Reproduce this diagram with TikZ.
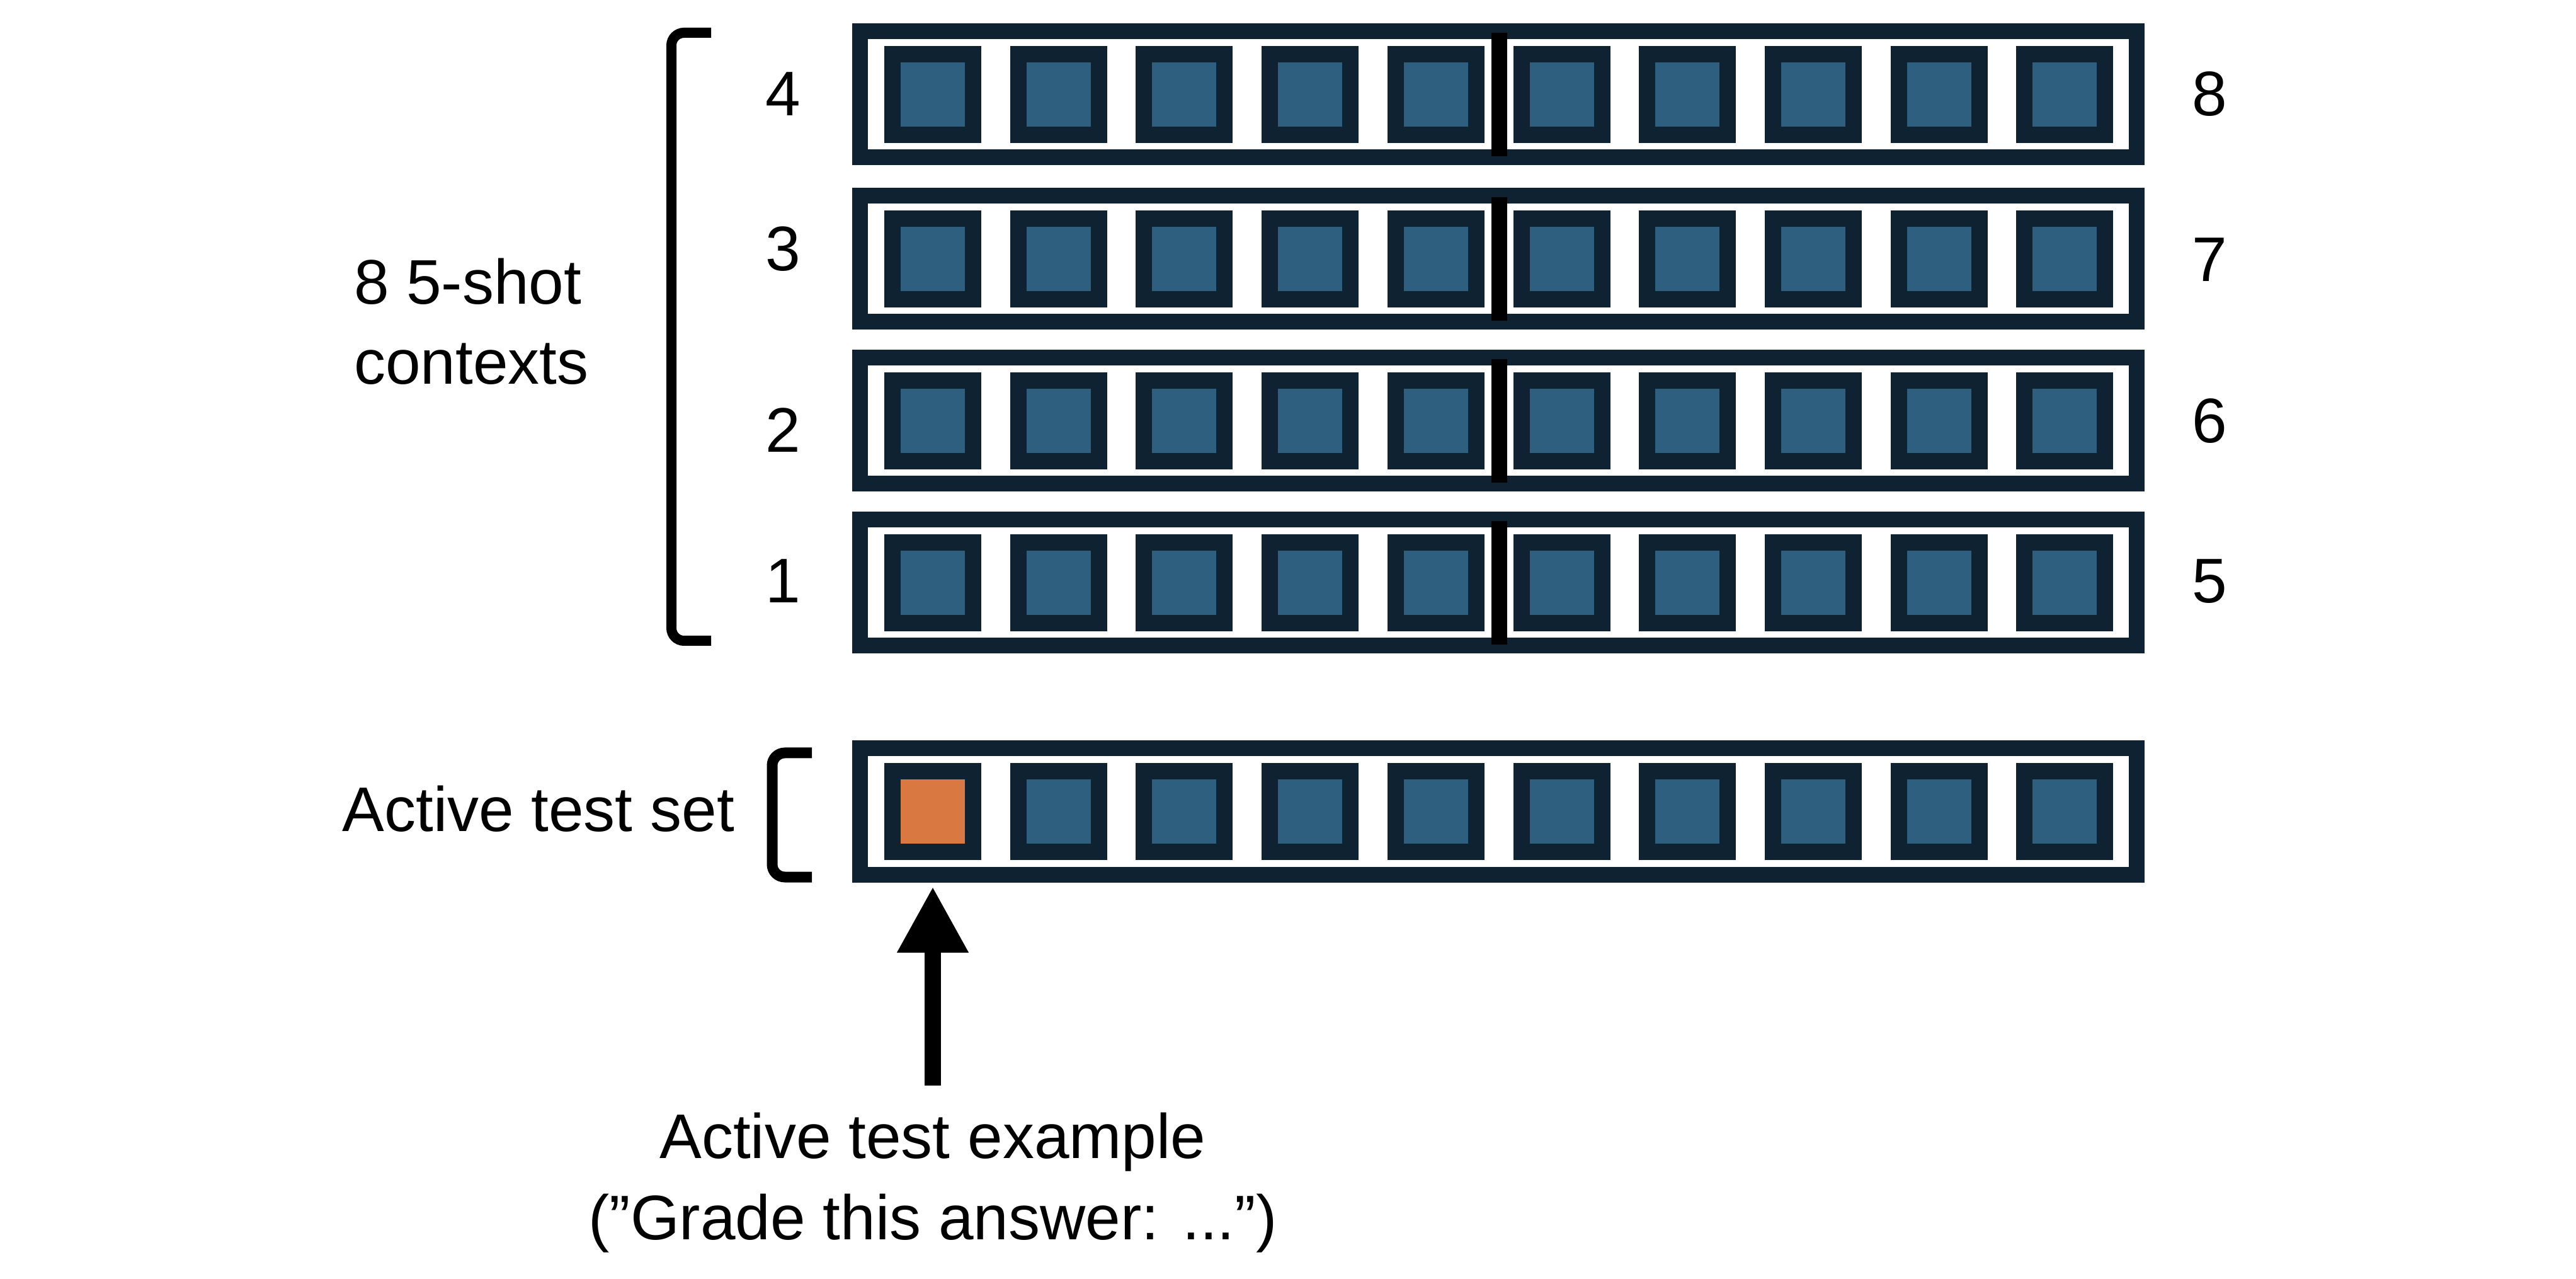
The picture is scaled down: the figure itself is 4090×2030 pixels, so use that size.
\documentclass[tikz,border=0pt]{standalone}
\usepackage{fontspec}
\setmainfont{Liberation Sans}
\usetikzlibrary{arrows.meta}
\definecolor{navy}{RGB}{15,34,49}
\definecolor{cellblue}{RGB}{46,95,127}
\definecolor{testorange}{RGB}{217,121,65}
\begin{document}
\begin{tikzpicture}[x=0.25pt,y=-0.25pt,
  rowbox/.style={draw=navy, line width=6.25pt, minimum width=506.75pt, minimum height=50pt, inner sep=0pt, outer sep=0pt},
  cell/.style={draw=navy, line width=6.5pt, fill=cellblue, minimum size=32pt, inner sep=0pt, outer sep=0pt},
  divider/.style={fill=black, minimum width=6.25pt, minimum height=49pt, inner sep=0pt, outer sep=0pt},
  lbl/.style={font=\fontsize{25pt}{31.75pt}\selectfont, inner sep=0pt, outer sep=0pt},
  lbltwo/.style={font=\fontsize{25pt}{32.25pt}\selectfont, inner sep=0pt, outer sep=0pt},
  bracket/.style={draw=black, rounded corners=5pt, line cap=butt},
  bigarrow/.style={draw=black, line width=6.5pt, -{Triangle[width=26.5pt,length=26.25pt]}}
  ]
\fill[white] (0,0) rectangle (4090,2030);
\useasboundingbox (0,0) rectangle (4090,2030);

% context rows
\foreach \k/\yc/\ln/\rn/\ly/\ry in {1/925/1/5/957/957, 2/668/2/6/718/703, 3/411/3/7/430/447, 4/150/4/8/184/184}{
  \node[rowbox] (row\k) at (2379,\yc) {};
  \foreach \i in {1,...,10}{
    \node[cell] (c\k-\i) at ({1481+199.7*(\i-1)},\yc) {};
  }
  \node[divider] (div\k) at (2380.5,\yc) {};
  \node[lbl, anchor=base] (L\k) at (1243,\ly) {\ln};
  \node[lbl, anchor=base] (R\k) at (3508,\ry) {\rn};
}

% active test set row
\node[rowbox] (rowT) at (2379,1288) {};
\node[cell, fill=testorange] (cT-1) at (1481,1288) {};
\foreach \i in {2,...,10}{
  \node[cell] (cT-\i) at ({1481+199.7*(\i-1)},1288) {};
}

% brackets
\draw[bracket, line width=4pt] (1129,52) -- (1066,52) -- (1066,1017) -- (1129,1017);
\draw[bracket, line width=4.25pt] (1289,1195) -- (1226,1195) -- (1226,1392) -- (1289,1392);

% labels
\node[lbl, anchor=west, align=left] (ctx) at (562,510) {8 5-shot\\contexts};
\node[lbl, anchor=base east] (tset) at (1166,1320) {Active test set};
\node[lbltwo, anchor=north, align=center] (ex) at (1481,1766) {Active test example\\(”Grade this answer: ...”)};

% arrow
\draw[bigarrow, shorten <=10.75pt, shorten >=13.75pt] (ex.north) -- (cT-1.south);
\end{tikzpicture}
\end{document}
